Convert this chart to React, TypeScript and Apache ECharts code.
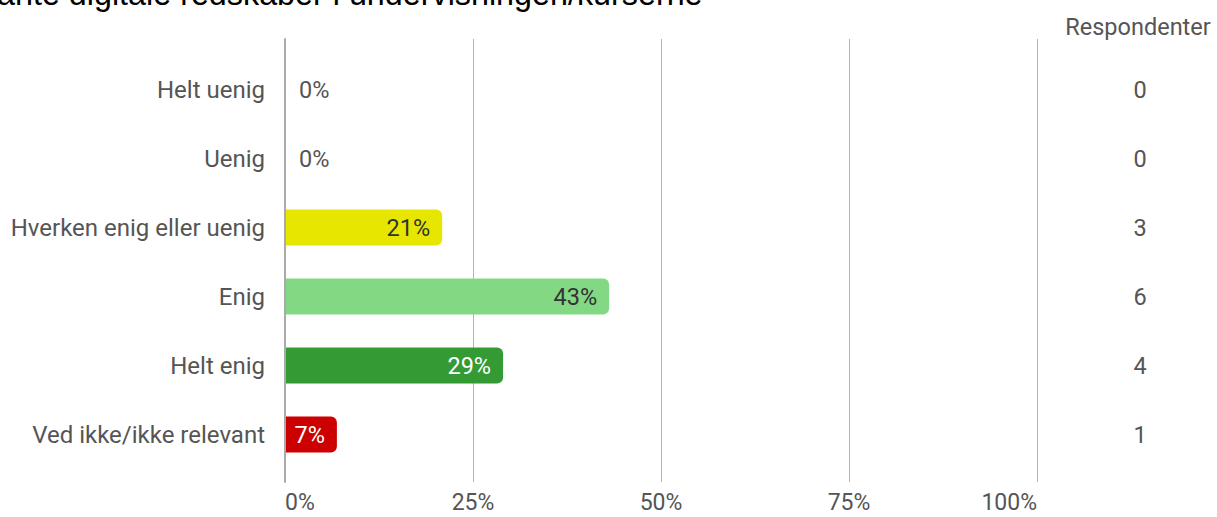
import React, { useEffect, useRef } from "react";
import * as echarts from "echarts";

const titleText = "ante digitale redskaber i undervisningen/kurserne";
const categories = [
  "Helt uenig",
  "Uenig",
  "Hverken enig eller uenig",
  "Enig",
  "Helt enig",
  "Ved ikke/ikke relevant",
];
const percentages = [0, 0, 20.9, 43.1, 29.0, 6.9];
const respondents = [0, 0, 3, 6, 4, 1];
const barColors = ["#e6e600", "#e6e600", "#e6e600", "#83d983", "#349a34", "#cc0000"];
const labelColors = ["#555555", "#555555", "#333333", "#333333", "#ffffff", "#ffffff"];
const respondentHeader = "Respondenter";

export default function App() {
  const ref = useRef<HTMLDivElement>(null);
  useEffect(() => {
    document.body.style.margin = "0";
    if (!ref.current) return;
    const chart = echarts.init(ref.current, undefined, { renderer: "svg" });
    const font = "Roboto";
    const data = percentages.map((v, i) => ({
      value: v,
      itemStyle: { color: barColors[i], borderRadius: [0, 6, 6, 0] },
      label: {
        show: true,
        position: v > 0 ? "insideRight" : "right",
        distance: v > 0 ? 12 : 14,
        color: labelColors[i],
        fontSize: 23.5,
        fontFamily: font,
        formatter: () => Math.round(v) + "%",
      },
    }));
    chart.setOption({
      animation: false,
      grid: [
        { left: 285, right: 180, top: 39, bottom: 35 },
        { left: 285, right: 180, top: 55, bottom: 48 },
      ],
      xAxis: [
        {
          gridIndex: 0,
          type: "value",
          min: 0,
          max: 100,
          interval: 25,
          axisLine: { show: false },
          axisTick: { show: false },
          splitLine: { show: true, lineStyle: { color: "#b4b4b4", width: 1 } },
          axisLabel: {
            formatter: "{value}%",
            color: "#555",
            fontSize: 23,
            fontFamily: font,
            margin: 9,
            alignMinLabel: "left",
            alignMaxLabel: "right",
          },
        },
        { gridIndex: 1, type: "value", min: 0, max: 100, show: false },
      ],
      yAxis: [
        {
          gridIndex: 0,
          type: "category",
          data: [""],
          z: 5,
          axisLine: { show: true, lineStyle: { color: "#aaaaaa", width: 2 } },
          axisTick: { show: false },
          axisLabel: { show: false },
          splitLine: { show: false },
        },
        {
          gridIndex: 1,
          type: "category",
          data: categories,
          inverse: true,
          position: "left",
          axisLine: { show: false },
          axisTick: { show: false },
          axisLabel: { color: "#555", fontSize: 24, fontFamily: font, margin: 20 },
        },
        {
          gridIndex: 1,
          type: "category",
          data: respondents.map(String),
          inverse: true,
          position: "right",
          axisLine: { show: false },
          axisTick: { show: false },
          axisLabel: { color: "#555", fontSize: 23.5, fontFamily: font, margin: 103, align: "center" },
        },
      ],
      series: [
        {
          type: "bar",
          xAxisIndex: 1,
          yAxisIndex: 1,
          barWidth: 36,
          data,
        },
      ],
      graphic: [
        {
          type: "text",
          x: -3,
          y: -6,
          style: {
            text: titleText,
            fontSize: 32.3,
            fontFamily: '"Liberation Sans", Arial',
            fill: "#000",
            align: "left",
            verticalAlign: "middle",
          },
        },
        {
          type: "text",
          x: 1138,
          y: 27,
          style: {
            text: respondentHeader,
            fontSize: 23.5,
            fontFamily: font,
            fill: "#555",
            align: "center",
            verticalAlign: "middle",
          },
        },
      ],
    });
    return () => chart.dispose();
  }, []);
  return <div ref={ref} style={{ width: 1217, height: 517 }} />;
}
